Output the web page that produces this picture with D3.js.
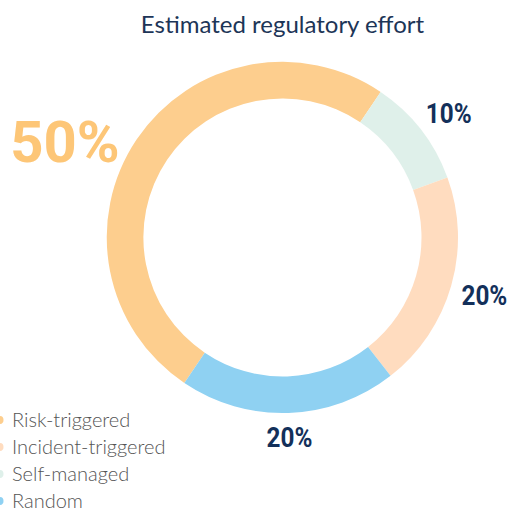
<!DOCTYPE html>
<html lang="en">
<head>
    <meta charset="UTF-8">
    <title>Estimated regulatory effort</title>
    <script src="https://d3js.org/d3.v7.min.js"></script>
    <style>
        body { margin: 0; background: #fff; }
        svg { display: block; }
    </style>
</head>
<body>
    <svg id="chart" width="516" height="511"></svg>
    <script>
        // data
        const categories = ["Risk-triggered", "Incident-triggered", "Self-managed", "Random"];
        const shares = [50, 20, 10, 20];
        const colours = ["#fdce8e", "#ffdcbf", "#dff0ea", "#8fd1f2"];
        // clockwise order of the ring, starting from the lower left
        const ringOrder = ["Risk-triggered", "Self-managed", "Incident-triggered", "Random"];

        const width = 516, height = 511;
        const cx = 282.5, cy = 237.5;
        const outerR = 175.5, innerR = 139;

        const svg = d3.select("#chart");

        const byName = {};
        categories.forEach((c, i) => byName[c] = {name: c, value: shares[i], colour: colours[i]});
        const slices = ringOrder.map(n => byName[n]);

        const start = -146 * Math.PI / 180;
        const pie = d3.pie().sort(null).value(d => d.value)
            .startAngle(start).endAngle(start + 2 * Math.PI);
        const arc = d3.arc().innerRadius(innerR).outerRadius(outerR);

        const g = svg.append("g").attr("transform", `translate(${cx},${cy})`);
        const arcs = pie(slices);
        g.selectAll("path")
            .data(arcs)
            .join("path")
            .attr("d", arc)
            .attr("fill", d => d.data.colour);

        // title
        svg.append("text")
            .attr("x", cx).attr("y", 33)
            .attr("text-anchor", "middle")
            .attr("font-family", "Lato, sans-serif")
            .attr("font-size", 24)
            .attr("fill", "#1d3557")
            .text("Estimated regulatory effort");

        // percentage labels, placed along the mid-angle of each slice
        const labelPos = {
            "Risk-triggered": {r: 0, dx: 0, size: 58, sx: 1, colour: "#fdc677"},
            "Self-managed": {r: 202, dx: 7, size: 27, sx: 0.9, colour: "#13305a"},
            "Incident-triggered": {r: 210, dx: 0, size: 27, sx: 0.9, colour: "#13305a"},
            "Random": {r: 200, dx: 0, size: 27, sx: 0.9, colour: "#13305a"}
        };
        arcs.forEach(a => {
            const p = labelPos[a.data.name];
            let x, y;
            if (a.data.name === "Risk-triggered") {
                x = 65 - cx; y = 162 - cy;
            } else {
                const mid = (a.startAngle + a.endAngle) / 2;
                x = Math.sin(mid) * p.r + p.dx;
                y = -Math.cos(mid) * p.r + p.size * 0.36;
            }
            g.append("text")
                .attr("x", x).attr("y", y)
                .attr("text-anchor", "middle")
                .attr("font-family", "Roboto, sans-serif")
                .attr("font-weight", "bold")
                .attr("font-size", p.size)
                .attr("fill", p.colour)
                .attr("transform", `translate(${x},${y}) scale(${p.sx},1) translate(${-x},${-y})`)
                .text(a.data.value + "%");
        });

        // legend, cut at the left edge
        const legend = svg.append("g").attr("transform", "translate(0,420)");
        const rows = legend.selectAll("g")
            .data(categories.map((c, i) => ({name: c, colour: colours[i]})))
            .join("g")
            .attr("transform", (d, i) => `translate(0,${i * 27})`);
        rows.append("circle")
            .attr("cx", -0.5).attr("cy", 0).attr("r", 4)
            .attr("fill", d => d.colour);
        rows.append("text")
            .attr("x", 12).attr("y", 7)
            .attr("font-family", "Lato, sans-serif")
            .attr("font-weight", 300)
            .attr("font-size", 20)
            .attr("fill", "#555")
            .text(d => d.name);
    </script>
</body>
</html>
